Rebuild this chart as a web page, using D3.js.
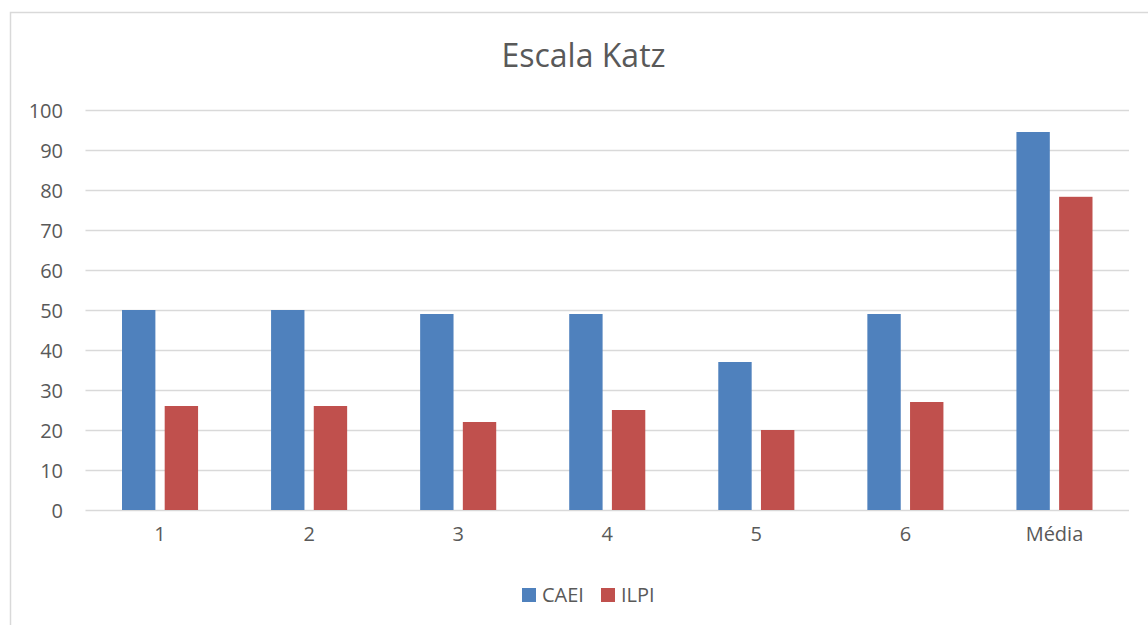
<!DOCTYPE html>
<html><head><meta charset="utf-8">
<script src="https://cdn.jsdelivr.net/npm/d3@7"></script>
<style>body{margin:0;background:#fff}svg{display:block}text{font-family:"Open Sans",sans-serif;fill:#595959}</style>
</head><body><svg id="c" width="1148" height="625"></svg>
<script>
const categories = ["1","2","3","4","5","6","Média"];
const seriesNames = ["CAEI","ILPI"];
const caei = [50,50,49,49,37,49,94.5];
const ilpi = [26,26,22,25,20,27,78.3];
const yTicks = [0,10,20,30,40,50,60,70,80,90,100];
const colors = ["#4f81bd","#c0504d"];

const svg = d3.select("#c");
// chart border
svg.append("path").attr("d","M10.5,625 V12.5 H1148").attr("fill","none").attr("stroke","#d9d9d9").attr("stroke-width",1.5);

const L=85.5, R=1129, T=110, B=510;
const x = d3.scaleBand().domain(categories).range([L,R]).paddingInner(0).paddingOuter(0);
const y = d3.scaleLinear().domain([0,100]).range([B,T]);
const xs = d3.scaleBand().domain(seriesNames).range([0,x.bandwidth()]).paddingInner(0.218).paddingOuter(0.855);

// grid
const g = svg.append("g");
g.selectAll("line.grid").data(yTicks).join("line")
 .attr("x1",L).attr("x2",R).attr("y1",d=>Math.round(y(d))+0.5).attr("y2",d=>Math.round(y(d))+0.5)
 .attr("stroke","#d9d9d9").attr("stroke-width",1.5);

// y axis labels
const yAxis = d3.axisLeft(y).tickValues(yTicks).tickSize(0).tickPadding(0);
const ya = svg.append("g").attr("transform",`translate(63,0)`).call(yAxis);
ya.select(".domain").remove();
ya.selectAll("text").attr("font-size",20).attr("fill","#595959").attr("dy","0.35em").style("font-family","'Open Sans',sans-serif");

// bars
const data = categories.map((c,i)=>({c,vals:[caei[i],ilpi[i]]}));
const grp = svg.append("g").selectAll("g").data(data).join("g").attr("transform",d=>`translate(${x(d.c)},0)`);
grp.selectAll("rect").data(d=>d.vals.map((v,j)=>({s:seriesNames[j],v,j}))).join("rect")
 .attr("x",d=>xs(d.s)).attr("width",xs.bandwidth())
 .attr("y",d=>y(d.v)).attr("height",d=>y(0)-y(d.v))
 .attr("fill",d=>colors[d.j]);

// x axis
const xAxis = d3.axisBottom(x).tickSize(0).tickPadding(0);
const xa = svg.append("g").attr("transform",`translate(0,${B+17})`).call(xAxis);
xa.select(".domain").remove();
xa.selectAll("text").attr("font-size",20).attr("fill","#595959").attr("dy","0.71em").style("font-family","'Open Sans',sans-serif");

// title
svg.append("text").attr("x",583.5).attr("y",67).attr("text-anchor","middle").attr("font-size",32).text("Escala Katz");

// legend
const leg = svg.append("g");
const legX=[522,601];
seriesNames.forEach((s,i)=>{
  leg.append("rect").attr("x",legX[i]).attr("y",588).attr("width",14).attr("height",14).attr("fill",colors[i]);
  leg.append("text").attr("x",legX[i]+20).attr("y",602).attr("font-size",20).text(s);
});
</script></body></html>
